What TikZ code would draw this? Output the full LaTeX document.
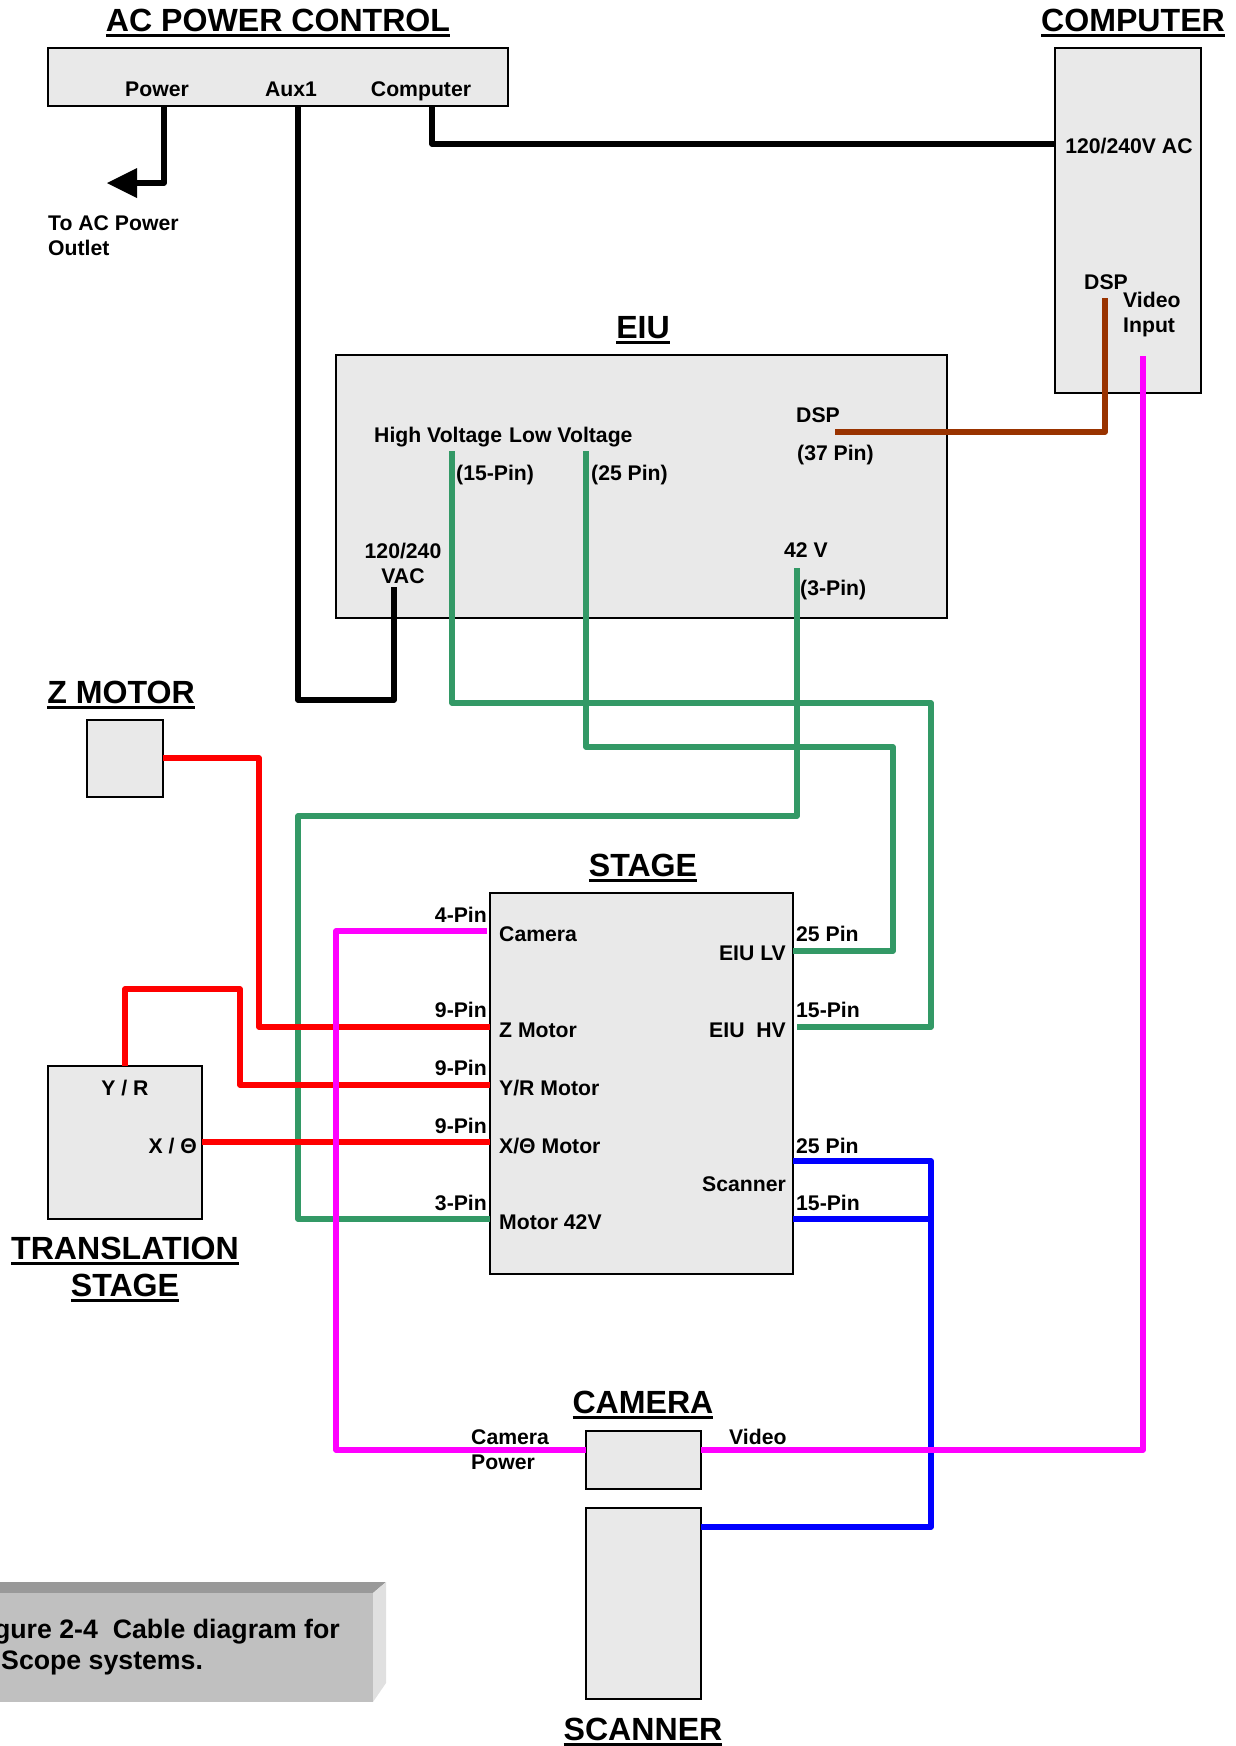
\documentclass[tikz,border=0pt]{standalone}
\usepackage{fontspec}
\setmainfont{Liberation Sans}
\usepackage{xcolor}
\definecolor{boxgray}{RGB}{233,233,233}
\definecolor{cablegreen}{RGB}{51,153,102}
\definecolor{cablebrown}{RGB}{153,51,0}
\definecolor{cablered}{RGB}{255,0,0}
\definecolor{cableblue}{RGB}{0,0,255}
\definecolor{cablemagenta}{RGB}{255,0,255}
\definecolor{captionface}{RGB}{192,192,192}
\definecolor{captiontop}{RGB}{153,153,153}
\definecolor{captionside}{RGB}{224,224,224}
\newcommand{\headtxt}[1]{\setbox0=\hbox{#1}\leavevmode\rlap{\rule[-6pt]{\wd0}{3.5pt}}\box0}
\tikzset{
  unitbox/.style={draw=black, line width=2.2pt, fill=boxgray, anchor=north west, inner sep=0pt, outer sep=0pt},
  heading/.style={font=\fontsize{32.1}{37}\selectfont\bfseries, align=center, anchor=base, inner sep=0pt},
  lbl/.style={font=\fontsize{21.2}{25}\selectfont\bfseries, inner sep=0pt, text height=15pt, text depth=0pt},
  lbltwo/.style={font=\fontsize{21.2}{25}\selectfont\bfseries, align=left, inner sep=0pt},
  captxt/.style={font=\fontsize{26.7}{31}\selectfont\bfseries, inner sep=0pt, text height=19pt, text depth=0pt},
  cable/.style={line width=5.5pt, line join=round},
  blackcable/.style={cable, draw=black},
  greencable/.style={cable, draw=cablegreen},
  redcable/.style={cable, draw=cablered},
  bluecable/.style={cable, draw=cableblue},
  magentacable/.style={cable, draw=cablemagenta},
  browncable/.style={cable, draw=cablebrown}
}
\begin{document}
\begin{tikzpicture}[x=1pt, y=-1pt]
  \useasboundingbox (0,0) rectangle (1235,1746);

  % Caption block, cut off by the page
  \fill[captiontop] (-5,1582) -- (386,1582) -- (373,1593) -- (-5,1593) -- cycle;
  \fill[captionside] (373,1593) -- (386,1582) -- (386,1683) -- (373,1702) -- cycle;
  \fill[captionface] (-5,1593) rectangle (373,1702);
  \node[captxt, anchor=east] (capa) at (340,1629) {gure 2-4\ \ Cable diagram for};
  \node[captxt, anchor=west] (capb) at (1,1660) {Scope systems.};

  % Units
  \node[unitbox, minimum width=460pt, minimum height=58pt] (acbox) at (48,48) {};
  \node[unitbox, minimum width=146pt, minimum height=345pt] (pcbox) at (1055,48) {};
  \node[unitbox, minimum width=611pt, minimum height=263pt] (eiubox) at (336,355) {};
  \node[unitbox, minimum width=76pt, minimum height=77pt] (zbox) at (87,720) {};
  \node[unitbox, minimum width=303pt, minimum height=381pt] (stagebox) at (490,893) {};
  \node[unitbox, minimum width=154pt, minimum height=153pt] (transbox) at (48,1066) {};
  \node[unitbox, minimum width=115pt, minimum height=58pt] (cambox) at (586,1431) {};
  \node[unitbox, minimum width=115pt, minimum height=191pt] (scanbox) at (586,1508) {};

  % Headings
  \node[heading] (achead) at (278,31) {\headtxt{AC POWER CONTROL}};
  \node[heading] (pchead) at (1133,31) {\headtxt{COMPUTER}};
  \node[heading] (eiuhead) at (643,338) {\headtxt{EIU}};
  \node[heading] (zhead) at (121,703) {\headtxt{Z MOTOR}};
  \node[heading] (stagehead) at (643,876) {\headtxt{STAGE}};
  \node[heading] (transhead) at (125,1259) {\headtxt{TRANSLATION}};
  \node[heading] (transheadb) at (125,1296) {\headtxt{STAGE}};
  \node[heading] (camhead) at (643,1413) {\headtxt{CAMERA}};
  \node[heading] (scanhead) at (643,1740) {\headtxt{SCANNER}};

  % Cable ends with no box edge to sit on
  \coordinate (outlet) at (137,183);
  \coordinate (vacpin) at (394,587);
  \coordinate (dsppin) at (835,432);
  \coordinate (pcdsp) at (1105,298);
  \coordinate (pcvideo) at (1143,356);
  \coordinate (hvpin) at (452,451);
  \coordinate (lvpin) at (586,451);
  \coordinate (vpin) at (797,568);
  \coordinate (stagehv) at (797,1027);
  \coordinate (stagecam) at (487,931);

  % Green cables
  \draw[greencable] (hvpin) -- (452,703) -- (931,703) -- (931,1027) -- (stagehv);
  \draw[greencable] (lvpin) -- (586,747) -- (893,747) -- (893,951) -- (stagebox.east |- 0,951);
  \draw[greencable] (vpin) -- (797,816) -- (298,816) -- (298,1219) -- (stagebox.west |- 0,1219);

  % Red cables
  \draw[redcable] (zbox.east |- 0,758) -- (259,758) -- (259,1027) -- (stagebox.west |- 0,1027);
  \draw[redcable] (transbox.north -| 125,0) -- (125,989) -- (240,989) -- (240,1085) -- (stagebox.west |- 0,1085);
  \draw[redcable] (transbox.east |- 0,1142) -- (stagebox.west |- 0,1142);

  % Black cables
  \draw[blackcable] (acbox.south -| 164,0) -- (164,183) -- (outlet);
  \fill[black] (107,183) -- (137,168) -- (137,198) -- cycle;
  \draw[blackcable] (acbox.south -| 298,0) -- (298,700) -- (394,700) -- (vacpin);
  \draw[blackcable] (acbox.south -| 432,0) -- (432,144) -- (pcbox.west |- 0,144);

  % Brown cable
  \draw[browncable] (dsppin) -- (1105,432) -- (pcdsp);

  % Blue cables
  \draw[bluecable] (stagebox.east |- 0,1161) -- (931,1161) -- (931,1527) -- (scanbox.east |- 0,1527);
  \draw[bluecable] (stagebox.east |- 0,1219) -- (931,1219);

  % Magenta cables
  \draw[magentacable] (pcvideo) -- (1143,1450) -- (cambox.east |- 0,1450);
  \draw[magentacable] (cambox.west |- 0,1450) -- (336,1450) -- (336,931) -- (stagecam);

  % AC power control labels
  \node[lbl] (acpower) at (157,89) {Power};
  \node[lbl] (acaux) at (291,89) {Aux1};
  \node[lbl] (accomp) at (421,89) {Computer};
  \node[lbltwo, anchor=west] (outlettxt) at (48,236) {To AC Power\\Outlet};

  % Computer labels
  \node[lbl] (pcac) at (1129,146) {120/240V AC};
  \node[lbl] (pcdsptxt) at (1106,282) {DSP};
  \node[lbltwo, anchor=west] (pcvideotxt) at (1123,315) {Video\\Input};

  % EIU labels
  \node[lbl, anchor=west] (eiuhigh) at (374,435) {High Voltage};
  \node[lbl, anchor=west] (eiulow) at (509,435) {Low Voltage};
  \node[lbl, anchor=west] (eiu15) at (456,473) {(15-Pin)};
  \node[lbl, anchor=west] (eiu25) at (591,473) {(25 Pin)};
  \node[lbl, anchor=west] (eiudsp) at (796,415) {DSP};
  \node[lbl, anchor=west] (eiu37) at (797,453) {(37 Pin)};
  \node[lbltwo, align=center] (eiuvac) at (403,563) {120/240\\VAC};
  \node[lbl] (eiu42) at (806,550) {42 V};
  \node[lbl, anchor=west] (eiu3) at (800,588) {(3-Pin)};

  % Stage labels, left side
  \node[lbl, anchor=east] (pin4) at (487,915) {4-Pin};
  \node[lbl, anchor=east] (pin9a) at (487,1010) {9-Pin};
  \node[lbl, anchor=east] (pin9b) at (487,1068) {9-Pin};
  \node[lbl, anchor=east] (pin9c) at (487,1126) {9-Pin};
  \node[lbl, anchor=east] (pin3) at (487,1203) {3-Pin};
  \node[lbl, anchor=west] (stcam) at (499,934) {Camera};
  \node[lbl, anchor=west] (stz) at (499,1030) {Z Motor};
  \node[lbl, anchor=west] (styr) at (499,1088) {Y/R Motor};
  \node[lbl, anchor=west] (stxt) at (499,1146) {X/Θ Motor};
  \node[lbl, anchor=west] (st42) at (499,1222) {Motor 42V};

  % Stage labels, right side
  \node[lbl, anchor=east] (stlv) at (786,953) {EIU LV};
  \node[lbl, anchor=east] (sthv) at (786,1030) {EIU\ \ HV};
  \node[lbl, anchor=east] (stscan) at (786,1184) {Scanner};
  \node[lbl, anchor=west] (pin25a) at (796,934) {25 Pin};
  \node[lbl, anchor=west] (pin15a) at (796,1010) {15-Pin};
  \node[lbl, anchor=west] (pin25b) at (796,1146) {25 Pin};
  \node[lbl, anchor=west] (pin15b) at (796,1203) {15-Pin};

  % Translation stage labels
  \node[lbl] (tryr) at (125,1088) {Y / R};
  \node[lbl, anchor=east] (trxt) at (197,1146) {X / Θ};

  % Camera labels
  \node[lbltwo, anchor=west] (campower) at (471,1450) {Camera\\Power};
  \node[lbl, anchor=west] (camvideo) at (729,1437) {Video};
\end{tikzpicture}
\end{document}
